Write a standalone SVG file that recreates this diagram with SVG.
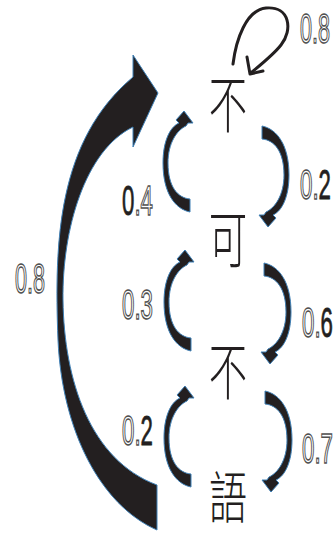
<svg xmlns="http://www.w3.org/2000/svg" width="334" height="535" viewBox="0 0 334 535">
<style>
.node{font-family:"Noto Sans CJK TC","Noto Sans CJK SC",sans-serif;font-size:62px;font-weight:300;fill:#231f20;text-anchor:middle}
.arc{fill:#231f20;stroke:#3f80b6;stroke-width:1;stroke-linejoin:round}
.lbl{font-family:"Liberation Sans",Arial,sans-serif;font-size:42px;fill:#fff;stroke:#505050;stroke-width:1.6}
.ink{fill:#231f20;stroke:#231f20;stroke-width:.8}
.loop{fill:none;stroke:#231f20;stroke-width:3;stroke-linecap:round;stroke-linejoin:round}
</style>
<defs>
  <!-- tapered curved arrow; right-hand copies are rotated by 180 degrees -->
  <path id="bend" d="M13,49 C-2,46 -14,30 -14,0 C-14,-22 -7,-36 2,-40 L-1,-43 L7,-52 L16,-40 L11,-40 L9,-37 C0,-33 -9,-20 -9,0 C-9,24 1,35 13,36 Z"/>
</defs>

<g id="connectors">
  <!-- self loop on the first node -->
  <path class="loop" d="M233,64 C236,40 246,10 266,8 C290,6 293,30 281,45 C274,54 264,62 252,72"/>
  <path class="loop" d="M247,57 L250,74 L263,71"/>
  <!-- long return arrow from the last node back to the first -->
  <path class="arc" d="M157,530 C100,505 62,430 58,340 C54,240 58,140 133,77 L133,55 L158,93 L133,147 L133,127 C85,150 62,230 63,300 C64,380 90,460 157,485 Z"/>
  <!-- left-hand arrows (upward) -->
  <use href="#bend" class="arc" transform="translate(177,163)"/>
  <use href="#bend" class="arc" transform="translate(178,302)"/>
  <use href="#bend" class="arc" transform="translate(178,438)"/>
  <!-- right-hand arrows (downward) -->
  <use href="#bend" class="arc" transform="translate(275,175) rotate(180)"/>
  <use href="#bend" class="arc" transform="translate(277,312) rotate(180)"/>
  <use href="#bend" class="arc" transform="translate(278,440) rotate(180)"/>
</g>

<g id="labels" class="lbl">
  <text transform="translate(300,43) scale(0.514,1)">0.8</text>
  <text transform="translate(15,293) scale(0.514,1)">0.8</text>
  <text transform="translate(122,215) scale(0.53,1)"><tspan class="ink">0</tspan>.4</text>
  <text transform="translate(122,319) scale(0.53,1)">0.3</text>
  <text transform="translate(122,445) scale(0.53,1)">0.<tspan class="ink">2</tspan></text>
  <text transform="translate(300,199) scale(0.53,1)">0.<tspan class="ink">2</tspan></text>
  <text transform="translate(302,337) scale(0.53,1)">0.<tspan class="ink">6</tspan></text>
  <text transform="translate(302,463) scale(0.53,1)">0.7</text>
</g>

<g id="node-bu1"><text class="node" transform="translate(228,128) scale(0.62,1)">不</text></g>
<g id="node-ke"><text class="node" transform="translate(228,263) scale(0.62,1)">可</text></g>
<g id="node-bu2"><text class="node" transform="translate(228,395) scale(0.62,1)">不</text></g>
<g id="node-yu"><text class="node" style="font-size:56px" transform="translate(228,518) scale(0.68,1)">語</text></g>
</svg>
